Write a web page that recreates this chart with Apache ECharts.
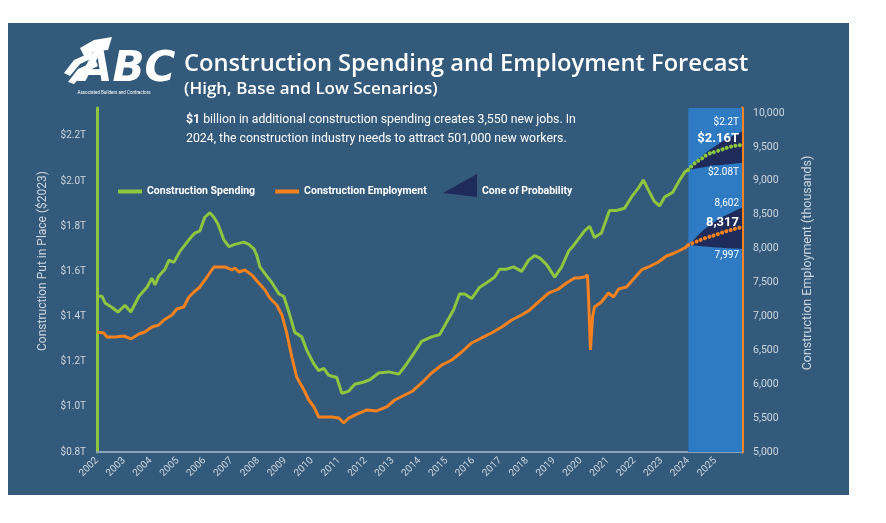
<!DOCTYPE html>
<html><head><meta charset="utf-8">
<script src="https://cdn.jsdelivr.net/npm/echarts@6/dist/echarts.min.js"></script>
<style>html,body{margin:0;padding:0;background:#fff;}#c{width:886px;height:523px;}</style>
</head><body><div id="c"></div>
<script>
// ---- data ----
const spending = [[2002.00,1.49],[2002.19,1.49],[2002.30,1.46],[2002.56,1.44],[2002.78,1.42],[2003.04,1.45],[2003.26,1.42],[2003.56,1.49],[2003.86,1.53],[2004.04,1.57],[2004.16,1.54],[2004.30,1.58],[2004.53,1.61],[2004.68,1.65],[2004.86,1.64],[2005.09,1.69],[2005.42,1.74],[2005.64,1.77],[2005.83,1.78],[2006.01,1.84],[2006.20,1.86],[2006.35,1.84],[2006.50,1.81],[2006.72,1.74],[2006.91,1.71],[2007.13,1.72],[2007.46,1.73],[2007.65,1.72],[2007.84,1.70],[2007.95,1.67],[2008.06,1.62],[2008.25,1.59],[2008.51,1.55],[2008.77,1.50],[2008.95,1.49],[2009.14,1.42],[2009.36,1.33],[2009.62,1.31],[2009.81,1.25],[2010.07,1.19],[2010.25,1.16],[2010.44,1.17],[2010.62,1.14],[2010.92,1.13],[2011.11,1.06],[2011.37,1.07],[2011.59,1.10],[2011.93,1.11],[2012.15,1.12],[2012.48,1.15],[2012.86,1.155],[2013.23,1.145],[2013.52,1.19],[2013.75,1.23],[2014.08,1.29],[2014.45,1.31],[2014.75,1.32],[2014.94,1.36],[2015.27,1.43],[2015.49,1.50],[2015.68,1.50],[2015.94,1.48],[2016.24,1.53],[2016.50,1.55],[2016.80,1.575],[2016.98,1.61],[2017.24,1.61],[2017.50,1.62],[2017.80,1.60],[2018.06,1.65],[2018.28,1.67],[2018.47,1.66],[2018.73,1.63],[2019.03,1.575],[2019.29,1.62],[2019.55,1.69],[2019.70,1.71],[2020.14,1.78],[2020.33,1.80],[2020.51,1.75],[2020.77,1.77],[2021.07,1.87],[2021.33,1.87],[2021.63,1.88],[2021.89,1.93],[2022.15,1.97],[2022.33,2.005],[2022.52,1.96],[2022.74,1.91],[2022.93,1.89],[2023.12,1.93],[2023.42,1.95],[2023.68,2.005],[2023.87,2.04],[2024.00,2.05]];
const employment = [[2002.00,6770],[2002.26,6755],[2002.37,6696],[2002.67,6696],[2003.00,6711],[2003.26,6667],[2003.56,6740],[2003.78,6770],[2004.04,6844],[2004.30,6873],[2004.49,6947],[2004.79,7021],[2004.97,7110],[2005.23,7139],[2005.42,7286],[2005.61,7360],[2005.83,7434],[2006.09,7581],[2006.35,7729],[2006.54,7729],[2006.76,7729],[2007.02,7685],[2007.13,7714],[2007.28,7655],[2007.50,7685],[2007.76,7611],[2008.02,7493],[2008.25,7390],[2008.43,7272],[2008.69,7168],[2008.88,7021],[2009.06,6755],[2009.25,6401],[2009.43,6106],[2009.70,5915],[2009.88,5767],[2010.07,5664],[2010.25,5516],[2010.44,5516],[2010.74,5516],[2011.00,5501],[2011.18,5428],[2011.37,5501],[2011.67,5560],[2012.04,5620],[2012.41,5605],[2012.78,5664],[2013.08,5767],[2013.45,5841],[2013.75,5900],[2014.08,6018],[2014.45,6165],[2014.83,6283],[2015.20,6357],[2015.57,6475],[2015.94,6608],[2016.31,6682],[2016.68,6755],[2017.06,6844],[2017.43,6947],[2017.80,7021],[2018.10,7095],[2018.43,7213],[2018.80,7345],[2019.17,7404],[2019.47,7493],[2019.77,7567],[2019.92,7567],[2020.14,7581],[2020.25,7611],[2020.29,7286],[2020.36,6505],[2020.44,6991],[2020.51,7139],[2020.77,7213],[2021.03,7345],[2021.22,7286],[2021.41,7404],[2021.70,7434],[2022.00,7567],[2022.26,7685],[2022.52,7729],[2022.89,7803],[2023.19,7891],[2023.49,7935],[2023.87,8009],[2024.00,8053]];
const forecastYears = [2024, 2024.25, 2024.5, 2024.75, 2025, 2025.25, 2025.5, 2025.75, 2026];
const spendingBase = [2.05, 2.08, 2.10, 2.12, 2.13, 2.14, 2.15, 2.157, 2.16];
const spendingHigh = [2.05, 2.085, 2.11, 2.135, 2.155, 2.175, 2.19, 2.205, 2.22];
const spendingLow  = [2.05, 2.055, 2.06, 2.065, 2.07, 2.072, 2.075, 2.078, 2.08];
const employmentBase = [8053, 8095, 8135, 8170, 8200, 8235, 8265, 8292, 8317];
const employmentHigh = [8053, 8150, 8250, 8330, 8400, 8460, 8510, 8560, 8602];
const employmentLow  = [8053, 8045, 8035, 8028, 8020, 8013, 8007, 8002, 7997];
const forecastRange = [2024, 2026];

// ---- styles ----
const BG = '#335a7a', GREEN = '#8dc63f', ORANGE = '#f5811f', CONE = '#1f2b5a', FBLUE = '#2f7bc3', TXT = '#cdd7e0';
const FONT = 'Roboto';
const last = forecastYears.length - 1;
const pairs = arr => forecastYears.map((y, i) => [y, arr[i]]);
function endLbl(text, pos, size, bold, offset) {
  return { show: true, position: pos, align: 'right', offset: offset, color: '#fff',
    fontFamily: FONT, fontSize: size, fontWeight: bold ? 'bold' : 'normal',
    formatter: p => p.dataIndex === last ? text : '' };
}
const fmtT1 = v => '$' + v.toFixed(1) + 'T', fmtT2 = v => '$' + v.toFixed(2) + 'T', fmtN = v => Math.round(v).toLocaleString('en-US');
// cone edge: "high" edge filled with cone colour down to the axis, "low" edge re-filled with the forecast blue
function coneEdge(name, arr, yIdx, fill, z, label) {
  return { name: name, type: 'line', yAxisIndex: yIdx, data: pairs(arr), smooth: true, color: CONE,
    symbol: 'circle', symbolSize: 0.01, lineStyle: { width: 0, opacity: 0 },
    areaStyle: { color: fill, opacity: 1, origin: 'start' }, z: z, label: label, silent: true };
}

const chart = echarts.init(document.getElementById('c'), null, { renderer: 'canvas' });
chart.setOption({
  backgroundColor: '#ffffff',
  animation: false,
  grid: { left: 97, right: 144, top: 108, bottom: 71, containLabel: false },
  xAxis: { type: 'value', min: 2002, max: 2026, interval: 1,
    axisLine: { lineStyle: { color: '#8aa2b6', width: 2 } }, axisTick: { show: false }, splitLine: { show: false },
    axisLabel: { rotate: 45, color: TXT, fontFamily: FONT, fontSize: 10, margin: 7, showMaxLabel: false, formatter: v => String(v) } },
  yAxis: [
    { type: 'value', position: 'left', min: 0.8, max: 2.324, interval: 0.2,
      axisLine: { show: true, lineStyle: { color: GREEN, width: 3 } }, axisTick: { show: false }, splitLine: { show: false },
      axisLabel: { color: TXT, fontFamily: FONT, fontSize: 10, margin: 11, showMaxLabel: false, formatter: fmtT1 } },
    { type: 'value', position: 'right', min: 5000, max: 10074, interval: 500,
      axisLine: { show: true, lineStyle: { color: ORANGE, width: 3 } }, axisTick: { show: false }, splitLine: { show: false },
      axisLabel: { color: TXT, fontFamily: FONT, fontSize: 10.5, margin: 11, showMaxLabel: false, formatter: fmtN } }
  ],
  legend: [
    { data: ['Construction Spending', 'Construction Employment'], left: 118, top: 186, padding: 0, icon: 'rect',
      itemWidth: 24, itemHeight: 4, itemGap: 20, selectedMode: false,
      textStyle: { color: '#fff', fontFamily: FONT, fontSize: 10.5, fontWeight: 'bold' } },
    { data: ['Cone of Probability'], left: 443, top: 174, padding: 0, icon: 'path://M0,19L34,0L34,23Z',
      itemWidth: 34, itemHeight: 23, selectedMode: false, formatter: '{a|{name}}',
      textStyle: { color: '#fff', fontFamily: FONT, fontSize: 10.5, fontWeight: 'bold',
        rich: { a: { color: '#fff', fontFamily: FONT, fontSize: 10.5, fontWeight: 'bold', padding: [11, 0, 0, 0] } } } }
  ],
  graphic: [
    { type: 'rect', shape: { x: 8, y: 23, width: 841, height: 472 }, style: { fill: BG }, silent: true, z: -10 },
    // logo
    { type: 'polygon', shape: { points: [[64,73],[74,60],[92,52],[95,57],[80,64],[70,76]] }, style: { fill: '#fff' }, silent: true },
    { type: 'polygon', shape: { points: [[68,82],[78,69],[96,61],[98,66],[84,73],[74,84]] }, style: { fill: '#fff' }, silent: true },
    { type: 'polygon', shape: { points: [[80,48],[94,40],[112,37],[108,50],[96,51],[84,56]] }, style: { fill: '#fff' }, silent: true },
    { type: 'text', x: 80, y: 70, style: { text: 'ABC', fill: '#fff', font: 'italic 900 42px "DejaVu Sans"', verticalAlign: 'middle' }, silent: true },
    { type: 'text', x: 114, y: 93, style: { text: 'Associated Builders and Contractors', fill: '#fff', font: '4.5px Roboto', align: 'center', verticalAlign: 'middle' }, silent: true },
    // titles
    { type: 'text', x: 184, y: 64, style: { text: 'Construction Spending and Employment Forecast', fill: '#fff', font: '600 23.7px "Open Sans"', verticalAlign: 'middle' }, silent: true },
    { type: 'text', x: 184, y: 89, style: { text: '(High, Base and Low Scenarios)', fill: '#fff', font: '600 17px "Open Sans"', verticalAlign: 'middle' }, silent: true },
    { type: 'text', x: 186, y: 120, style: { text: '{b|$1} billion in additional construction spending creates 3,550 new jobs. In', fill: '#fff', font: '12.3px Roboto', verticalAlign: 'middle', rich: { b: { fontWeight: 'bold', fontFamily: 'Roboto', fontSize: 12.3, fill: '#fff' } } }, silent: true },
    { type: 'text', x: 186, y: 139, style: { text: '2024, the construction industry needs to attract 501,000 new workers.', fill: '#fff', font: '12.3px Roboto', verticalAlign: 'middle' }, silent: true },
    // axis names
    { type: 'text', x: 43, y: 261, rotation: Math.PI / 2, style: { text: 'Construction Put in Place ($2023)', fill: TXT, font: '12px Roboto', align: 'center', verticalAlign: 'middle' }, silent: true },
    { type: 'text', x: 808, y: 263, rotation: Math.PI / 2, style: { text: 'Construction Employment (thousands)', fill: TXT, font: '12.5px Roboto', align: 'center', verticalAlign: 'middle' }, silent: true }
  ],
  series: [
    { name: 'forecast-area', type: 'line', data: [], z: 1, silent: true,
      markArea: { silent: true, itemStyle: { color: FBLUE }, data: [[{ xAxis: forecastRange[0] }, { xAxis: forecastRange[1] }]] } },
    coneEdge('Cone of Probability', spendingHigh, 0, CONE, 3, endLbl(fmtT1(spendingHigh[last]), 'top', 10, false, [-3, 1])),
    coneEdge('spendLow', spendingLow, 0, FBLUE, 4, endLbl(fmtT2(spendingLow[last]), 'bottom', 10, false, [-3, -1])),
    coneEdge('Cone of Probability', employmentHigh, 1, CONE, 5, endLbl(fmtN(employmentHigh[last]), 'top', 10, false, [-3, 6])),
    coneEdge('empLow', employmentLow, 1, FBLUE, 6, endLbl(fmtN(employmentLow[last]), 'bottom', 10, false, [-3, -3])),
    { name: 'spendBase', type: 'line', yAxisIndex: 0, data: pairs(spendingBase), smooth: true,
      symbol: 'circle', symbolSize: 0.01, lineStyle: { color: GREEN, width: 4, type: [0.1, 4.4], cap: 'round' }, z: 8,
      label: endLbl(fmtT2(spendingBase[last]), 'top', 13, true, [-3, 5]) },
    { name: 'empBase', type: 'line', yAxisIndex: 1, data: pairs(employmentBase), smooth: true,
      symbol: 'circle', symbolSize: 0.01, lineStyle: { color: ORANGE, width: 4, type: [0.1, 4.4], cap: 'round' }, z: 8,
      label: endLbl(fmtN(employmentBase[last]), 'top', 13, true, [-3, 7]) },
    { name: 'Construction Spending', type: 'line', yAxisIndex: 0, data: spending, showSymbol: false, color: GREEN,
      lineStyle: { color: GREEN, width: 3 }, z: 9 },
    { name: 'Construction Employment', type: 'line', yAxisIndex: 1, data: employment, showSymbol: false, color: ORANGE,
      lineStyle: { color: ORANGE, width: 3 }, z: 9 }
  ]
});
</script></body></html>
